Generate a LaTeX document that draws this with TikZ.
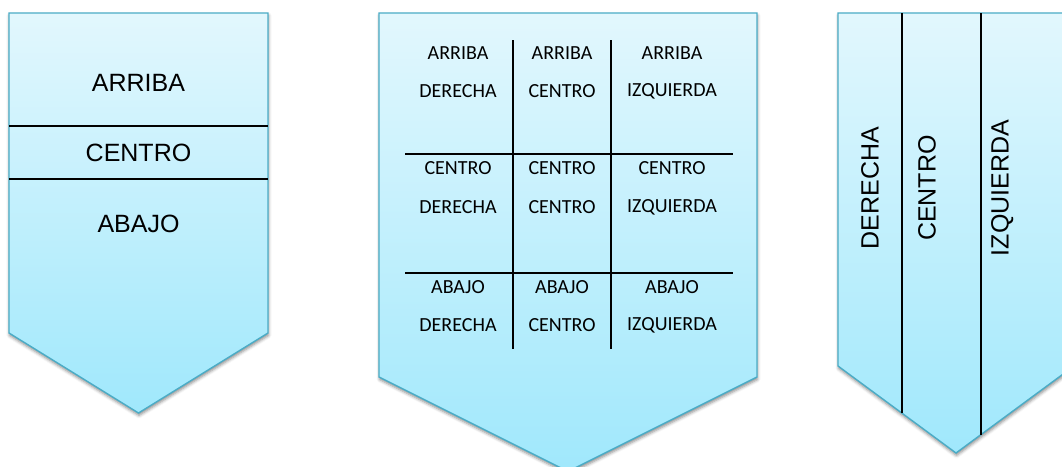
\documentclass[tikz,border=0pt]{standalone}
\usepackage{fontspec}
\setmainfont{Liberation Sans}
\newfontfamily\calib{Carlito}
\usetikzlibrary{shadows.blur}
\definecolor{topc}{RGB}{226,247,253}
\definecolor{botc}{RGB}{160,232,252}
\definecolor{bord}{RGB}{75,172,198}
\tikzset{
  chevron/.style={draw=bord, line width=1.4pt, line join=miter, top color=topc, bottom color=botc,
    blur shadow={shadow xshift=0.5pt, shadow yshift=-2.5pt, shadow blur radius=3pt, shadow opacity=45}},
  sep/.style={draw=black, line width=1.8pt},
  thinsep/.style={draw=black, line width=1.2pt},
  bigtxt/.style={font=\fontsize{25}{28}\selectfont, inner sep=0pt},
  gridtxt/.style={font=\calib\fontsize{20}{22}\selectfont, inner sep=0pt},
  vtxt/.style={font=\fontsize{25}{28}\selectfont, inner sep=0pt, rotate=90}
}
\begin{document}
\begin{tikzpicture}[x=1pt,y=-1pt]
\useasboundingbox (0,0) rectangle (1062,466);
\clip (0,0) rectangle (1062,466);
% shape 1
\path[chevron] (9,13) -- (268,13) -- (268,333) -- (138.5,413) -- (9,333) -- cycle;
\coordinate (a1) at (9,126); \coordinate (a2) at (268,126);
\coordinate (b1) at (9,179); \coordinate (b2) at (268,179);
\draw[sep] (a1) -- (a2);
\draw[sep] (b1) -- (b2);
\node[bigtxt] (s1a) at (138.5,83) {ARRIBA};
\node[bigtxt] (s1c) at (138.5,153) {CENTRO};
\node[bigtxt] (s1b) at (138.5,224) {ABAJO};
% shape 2
\path[chevron] (379,13) -- (757,13) -- (757,377) -- (568,471.5) -- (379,377) -- cycle;
\coordinate (v1t) at (513,40); \coordinate (v1b) at (513,349);
\coordinate (v2t) at (611,40); \coordinate (v2b) at (611,349);
\coordinate (h1l) at (405,154); \coordinate (h1r) at (733,154);
\coordinate (h2l) at (405,273); \coordinate (h2r) at (733,273);
\draw[sep] (v1t) -- (v1b);
\draw[sep] (v2t) -- (v2b);
\draw[sep] (h1l) -- (h1r);
\draw[thinsep] (h2l) -- (h2r);
\node[gridtxt] (g11a) at (458,53) {ARRIBA};
\node[gridtxt] (g11b) at (458,91) {DERECHA};
\node[gridtxt] (g12a) at (562,53) {ARRIBA};
\node[gridtxt] (g12b) at (562,91) {CENTRO};
\node[gridtxt] (g13a) at (672,53) {ARRIBA};
\node[gridtxt] (g13b) at (672,91) {IZQUIERDA};
\node[gridtxt] (g21a) at (458,168) {CENTRO};
\node[gridtxt] (g21b) at (458,207) {DERECHA};
\node[gridtxt] (g22a) at (562,168) {CENTRO};
\node[gridtxt] (g22b) at (562,207) {CENTRO};
\node[gridtxt] (g23a) at (672,168) {CENTRO};
\node[gridtxt] (g23b) at (672,207) {IZQUIERDA};
\node[gridtxt] (g31a) at (458,287) {ABAJO};
\node[gridtxt] (g31b) at (458,325) {DERECHA};
\node[gridtxt] (g32a) at (562,287) {ABAJO};
\node[gridtxt] (g32b) at (562,325) {CENTRO};
\node[gridtxt] (g33a) at (672,287) {ABAJO};
\node[gridtxt] (g33b) at (672,325) {IZQUIERDA};
% shape 3
\path[chevron] (838,13) -- (1074,13) -- (1074,366) -- (956,453) -- (838,366) -- cycle;
\coordinate (w1t) at (902,13); \coordinate (w1b) at (902,413);
\coordinate (w2t) at (981,13); \coordinate (w2b) at (981,434.6);
\draw[thinsep] (w1t) -- (w1b);
\draw[thinsep] (w2t) -- (w2b);
\node[vtxt] (s3d) at (870,188) {DERECHA};
\node[vtxt] (s3c) at (927,188) {CENTRO};
\node[vtxt, text depth=0pt] (s3i) at (1000,188) {IZQUIERDA};
\end{tikzpicture}
\end{document}
